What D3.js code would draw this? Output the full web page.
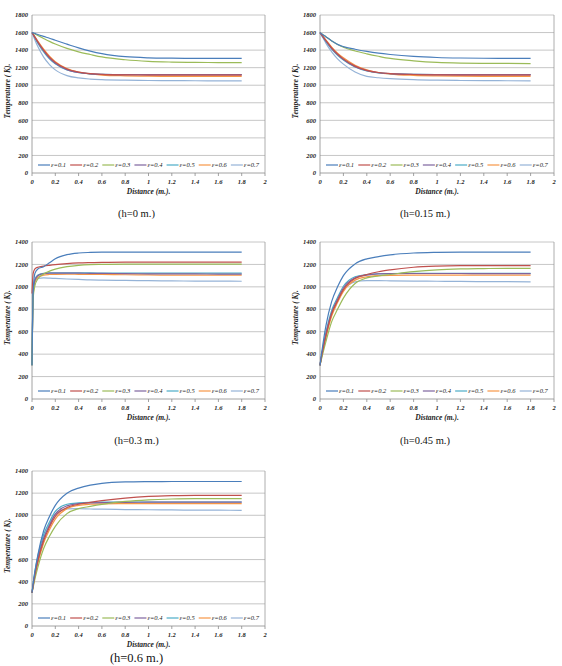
<!DOCTYPE html>
<html>
<head>
<meta charset="utf-8">
<script src="https://cdn.jsdelivr.net/npm/d3@7"></script>
<style>
  body { margin: 0; background: #fff; }
  svg text { font-family: "Liberation Serif", "Times New Roman", serif; }
  .tick-lab { font-size: 6.5px; font-weight: bold; font-style: italic; fill: #222; }
  .ax-title { font-size: 7.5px; font-weight: bold; font-style: italic; fill: #222; }
  .leg-lab { font-size: 6.5px; font-style: italic; fill: #222; }
  .caption { font-size: 10.5px; fill: #111; }
</style>
</head>
<body>
<div id="chart"></div>
<script>
// distance samples (m.)
const xs = [0, 0.01, 0.025, 0.05, 0.1, 0.15, 0.2, 0.3, 0.4, 0.5, 0.6, 0.8, 1.0, 1.2, 1.4, 1.6, 1.8];
const names = ['ε=0.1', 'ε=0.2', 'ε=0.3', 'ε=0.4', 'ε=0.5', 'ε=0.6', 'ε=0.7'];
const colors = ['#4A7EBB', '#C0504D', '#9BBB59', '#7E649E', '#4BACC6', '#F79646', '#95B3D7'];
const xTicks = [0, 0.2, 0.4, 0.6, 0.8, 1, 1.2, 1.4, 1.6, 1.8, 2];

// temperatures (K) per emissivity, one array per h
const h0 = [
  [1600, 1597, 1590, 1578, 1556, 1535, 1512, 1468, 1425, 1389, 1360, 1325, 1312, 1308, 1306, 1305, 1305],
  [1600, 1580, 1548, 1495, 1400, 1320, 1260, 1185, 1150, 1132, 1124, 1118, 1116, 1115, 1115, 1115, 1115],
  [1600, 1594, 1584, 1567, 1533, 1500, 1470, 1420, 1380, 1350, 1322, 1290, 1272, 1264, 1260, 1258, 1257],
  [1600, 1578, 1543, 1488, 1390, 1310, 1250, 1178, 1145, 1130, 1124, 1120, 1120, 1120, 1120, 1120, 1120],
  [1600, 1575, 1538, 1480, 1380, 1300, 1243, 1173, 1143, 1130, 1125, 1122, 1122, 1122, 1122, 1122, 1122],
  [1600, 1582, 1552, 1502, 1410, 1330, 1268, 1190, 1150, 1128, 1116, 1107, 1103, 1101, 1100, 1100, 1100],
  [1600, 1565, 1515, 1440, 1320, 1235, 1175, 1110, 1083, 1070, 1063, 1057, 1054, 1052, 1051, 1050, 1050]
];
const h015 = [
  [1600, 1590, 1576, 1552, 1505, 1465, 1440, 1410, 1385, 1365, 1350, 1328, 1316, 1310, 1307, 1306, 1305],
  [1600, 1582, 1555, 1510, 1425, 1355, 1300, 1218, 1170, 1145, 1133, 1122, 1118, 1116, 1115, 1115, 1115],
  [1600, 1590, 1576, 1552, 1505, 1465, 1432, 1390, 1358, 1330, 1305, 1278, 1260, 1252, 1249, 1248, 1247],
  [1600, 1580, 1551, 1504, 1418, 1348, 1293, 1212, 1165, 1142, 1132, 1124, 1121, 1120, 1120, 1120, 1120],
  [1600, 1578, 1548, 1500, 1412, 1342, 1288, 1208, 1162, 1140, 1131, 1124, 1122, 1122, 1122, 1122, 1122],
  [1600, 1584, 1559, 1516, 1435, 1366, 1312, 1228, 1175, 1144, 1127, 1112, 1106, 1103, 1101, 1100, 1100],
  [1600, 1575, 1540, 1480, 1380, 1300, 1240, 1150, 1100, 1085, 1075, 1063, 1057, 1054, 1052, 1051, 1050]
];
const h03 = [
  [300, 950, 1120, 1160, 1180, 1215, 1250, 1287, 1302, 1307, 1309, 1310, 1310, 1310, 1310, 1310, 1310],
  [940, 1120, 1160, 1175, 1185, 1192, 1198, 1207, 1213, 1216, 1218, 1220, 1220, 1220, 1220, 1220, 1220],
  [300, 900, 1010, 1070, 1115, 1140, 1158, 1180, 1192, 1198, 1200, 1202, 1202, 1202, 1202, 1202, 1202],
  [300, 950, 1060, 1100, 1118, 1122, 1123, 1123, 1122, 1121, 1120, 1118, 1116, 1115, 1115, 1114, 1114],
  [300, 960, 1065, 1105, 1120, 1124, 1125, 1125, 1124, 1124, 1123, 1122, 1122, 1122, 1122, 1122, 1122],
  [300, 920, 1040, 1085, 1105, 1110, 1112, 1113, 1112, 1111, 1110, 1108, 1106, 1105, 1104, 1104, 1104],
  [300, 950, 1050, 1075, 1080, 1078, 1075, 1070, 1066, 1062, 1060, 1057, 1055, 1053, 1052, 1051, 1050]
];
const h045 = [
  [300, 380, 490, 650, 870, 1000, 1100, 1205, 1250, 1270, 1285, 1302, 1308, 1310, 1310, 1310, 1310],
  [300, 360, 440, 560, 760, 875, 975, 1075, 1110, 1135, 1152, 1175, 1185, 1189, 1190, 1190, 1190],
  [300, 345, 410, 510, 690, 800, 900, 1030, 1080, 1097, 1110, 1135, 1152, 1160, 1163, 1165, 1165],
  [300, 365, 450, 575, 770, 890, 990, 1080, 1105, 1115, 1118, 1119, 1119, 1119, 1118, 1118, 1118],
  [300, 370, 460, 590, 790, 905, 1005, 1090, 1110, 1117, 1119, 1120, 1120, 1120, 1120, 1120, 1120],
  [300, 355, 430, 545, 740, 860, 960, 1060, 1090, 1100, 1103, 1104, 1104, 1104, 1104, 1104, 1104],
  [300, 365, 450, 570, 765, 870, 970, 1045, 1055, 1055, 1054, 1052, 1050, 1048, 1047, 1046, 1045]
];
const h06 = [
  [300, 380, 490, 640, 860, 990, 1090, 1200, 1245, 1272, 1288, 1301, 1304, 1305, 1305, 1305, 1305],
  [300, 365, 460, 585, 770, 895, 990, 1070, 1100, 1117, 1132, 1155, 1170, 1177, 1180, 1180, 1180],
  [300, 350, 425, 530, 700, 810, 900, 1015, 1060, 1080, 1098, 1125, 1140, 1147, 1150, 1150, 1150],
  [300, 370, 470, 600, 790, 910, 1010, 1085, 1105, 1112, 1115, 1117, 1118, 1118, 1118, 1118, 1118],
  [300, 385, 495, 630, 825, 940, 1035, 1100, 1112, 1117, 1118, 1120, 1120, 1120, 1120, 1120, 1120],
  [300, 360, 445, 565, 750, 870, 965, 1060, 1090, 1100, 1103, 1105, 1105, 1105, 1105, 1105, 1105],
  [300, 375, 475, 605, 800, 920, 1010, 1058, 1060, 1057, 1055, 1052, 1050, 1048, 1047, 1046, 1045]
];

const panels = [
  { data: h0,   ymax: 1800, left: 32,  right: 265, top: 15,  bottom: 173, cap: '(h=0 m.)',    capY: 217, capSize: 10.5 },
  { data: h015, ymax: 1800, left: 320, right: 554, top: 15,  bottom: 173, cap: '(h=0.15 m.)', capY: 217, capSize: 10.5 },
  { data: h03,  ymax: 1400, left: 32,  right: 265, top: 242, bottom: 399, cap: '(h=0.3 m.)',  capY: 444, capSize: 10.5 },
  { data: h045, ymax: 1400, left: 320, right: 554, top: 242, bottom: 399, cap: '(h=0.45 m.)', capY: 444, capSize: 10.5 },
  { data: h06,  ymax: 1400, left: 32,  right: 265, top: 471, bottom: 626, cap: '(h=0.6 m.)',  capY: 662, capSize: 12.5 }
];

const svg = d3.select('#chart').append('svg')
  .attr('width', 562).attr('height', 666);

const fmtX = d => d3.format('~g')(d);

panels.forEach(p => {
  const g = svg.append('g');
  const x = d3.scaleLinear().domain([0, 2]).range([p.left, p.right]);
  const y = d3.scaleLinear().domain([0, p.ymax]).range([p.bottom, p.top]);
  const yTicks = d3.range(0, p.ymax + 1, 200);

  // horizontal gridlines
  g.selectAll('.grid').data(yTicks).join('line')
    .attr('x1', p.left).attr('x2', p.right)
    .attr('y1', d => y(d)).attr('y2', d => y(d))
    .attr('stroke', d => d === 0 ? '#8a8a8a' : '#b8b8b8')
    .attr('stroke-width', 0.8);

  // left axis line + right border
  g.append('line').attr('x1', p.left).attr('x2', p.left)
    .attr('y1', p.top).attr('y2', p.bottom).attr('stroke', '#8a8a8a').attr('stroke-width', 0.8);
  g.append('line').attr('x1', p.right).attr('x2', p.right)
    .attr('y1', p.top).attr('y2', p.bottom).attr('stroke', '#9a9a9a').attr('stroke-width', 0.8);

  // y tick labels
  g.selectAll('.ylab').data(yTicks).join('text')
    .attr('class', 'tick-lab')
    .attr('x', p.left - 4).attr('y', d => y(d) + 2.2)
    .attr('text-anchor', 'end')
    .text(d => d);

  // x ticks and labels
  g.selectAll('.xt').data(xTicks).join('line')
    .attr('x1', d => x(d)).attr('x2', d => x(d))
    .attr('y1', p.bottom).attr('y2', p.bottom + 3)
    .attr('stroke', '#8a8a8a').attr('stroke-width', 0.8);
  g.selectAll('.xlab').data(xTicks).join('text')
    .attr('class', 'tick-lab')
    .attr('x', d => x(d)).attr('y', p.bottom + 11)
    .attr('text-anchor', 'middle')
    .text(fmtX);

  // axis titles
  g.append('text').attr('class', 'ax-title')
    .attr('x', (p.left + p.right) / 2).attr('y', p.bottom + 21)
    .attr('text-anchor', 'middle')
    .text('Distance (m.).');
  const ty = (p.top + p.bottom) / 2 - 3;
  g.append('text').attr('class', 'ax-title')
    .attr('transform', `translate(${p.left - 22},${ty}) rotate(-90)`)
    .attr('text-anchor', 'middle')
    .text('Temperature ( K).');

  // series
  const line = d3.line()
    .x((d, i) => x(xs[i]))
    .y(d => y(d))
    .curve(d3.curveMonotoneX);
  const order = [6, 5, 4, 3, 2, 1, 0];
  order.forEach(k => {
    g.append('path')
      .datum(p.data[k])
      .attr('fill', 'none')
      .attr('stroke', colors[k])
      .attr('stroke-width', 1.2)
      .attr('d', line);
  });

  // legend inside the plot
  const ly = p.bottom - 8;
  const step = (p.right - p.left - 8) / 7;
  names.forEach((n, i) => {
    const lx = p.left + 6 + i * step;
    g.append('line').attr('x1', lx).attr('x2', lx + 12)
      .attr('y1', ly).attr('y2', ly)
      .attr('stroke', colors[i]).attr('stroke-width', 1.2);
    g.append('text').attr('class', 'leg-lab')
      .attr('x', lx + 13).attr('y', ly + 2.2)
      .text(n);
  });

  // caption
  g.append('text').attr('class', 'caption')
    .attr('x', (p.left + p.right) / 2 - 12).attr('y', p.capY)
    .attr('text-anchor', 'middle')
    .style('font-size', p.capSize + 'px')
    .text(p.cap);
});
</script>
</body>
</html>
